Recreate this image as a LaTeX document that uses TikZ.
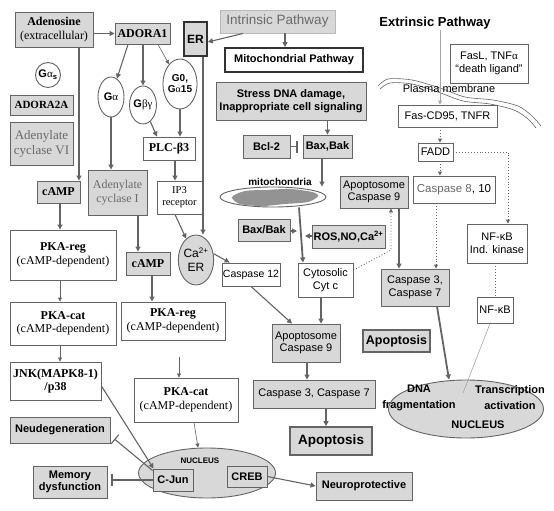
\documentclass[tikz,border=0pt]{standalone}
\usepackage{fontspec}
\setmainfont{Liberation Serif}
\setsansfont{Liberation Sans}
\usepackage{xcolor}
\usepackage{tikz}
\usetikzlibrary{shapes.geometric,arrows.meta,calc}
\definecolor{bloksiva}{RGB}{216,216,216}
\definecolor{linijasiva}{RGB}{100,100,100}
\definecolor{tekstsiva}{RGB}{105,105,105}

\begin{document}
\begin{tikzpicture}[x=1pt,y=-1pt,
    blok/.style={rectangle,draw=linijasiva,line width=0.9pt,fill=white,align=center,inner sep=1pt,
                 font=\fontsize{11}{12.5}\selectfont\sffamily},
    blokb/.style={blok,font=\fontsize{11}{12.5}\selectfont\sffamily\bfseries},
    sblok/.style={blok,font=\fontsize{12}{13.5}\selectfont\rmfamily},
    sblokb/.style={blok,font=\fontsize{12}{13.5}\selectfont\rmfamily\bfseries},
    siva/.style={fill=bloksiva},
    debeo/.style={line width=1.8pt},
    vel/.style 2 args={minimum width=#1pt,minimum height=#2pt},
    ovalg/.style={ellipse,draw=linijasiva,line width=0.9pt,fill=white,inner sep=0pt,align=center,
                  font=\fontsize{11}{12}\selectfont\sffamily\bfseries},
    strelica/.style={-{Triangle[length=5pt,width=5pt]},draw=linijasiva,line width=1.1pt},
    tanka/.style={-{Triangle[length=4pt,width=4pt]},draw=linijasiva,line width=0.6pt},
    tackasta/.style={-{Triangle[length=4pt,width=4pt]},draw=linijasiva,line width=0.9pt,dotted},
    kocnica/.style={-{Bar[width=12pt]},draw=linijasiva,line width=1.1pt}
]
\useasboundingbox (0,0) rectangle (554,511);

\draw[linijasiva,line width=0.6pt] plot[smooth] coordinates {(378,86) (388,79) (412,80) (440,88) (465,97) (493,100) (518,106) (532,116) (541,126)};
\draw[linijasiva,line width=0.6pt] plot[smooth] coordinates {(380,89) (390,83) (412,84) (438,92) (463,101) (490,104) (514,110) (528,119) (536,128)};

\node[sblok,siva,vel={78}{35}] (adenosin) at (54,29.5) {\textbf{Adenosine}\\(extracellular)};
\node[sblokb,siva,vel={55}{21}] (adora1) at (142.5,33.5) {ADORA1};
\node[ovalg,circle,vel={25}{25}] (gas) at (48,75) {G{\rmfamily\mdseries α}\textsubscript{s}};
\node[sblokb,siva,vel={63}{20},font=\fontsize{11}{12}\selectfont\rmfamily\bfseries] (adora2a) at (41.5,105) {ADORA2A};
\node[sblok,siva,vel={63}{43},text=tekstsiva,font=\fontsize{13}{15}\selectfont\rmfamily] (acvi) at (41.5,143.5) {Adenylate\\cyclase VI};
\node[ovalg,vel={26}{40}] (galfa) at (111,97) {G{\rmfamily\mdseries α}};
\node[ovalg,vel={26}{38}] (gbg) at (143,105) {G{\rmfamily\mdseries βγ}};
\node[ovalg,vel={30}{50},font=\fontsize{10}{11}\selectfont\sffamily\bfseries] (g0) at (180,84) {G0,\\G{\rmfamily\mdseries α}15};
\node[sblokb,vel={52}{23}] (plc) at (169,148.5) {PLC-β3};
\node[blokb,siva,debeo,draw=black!80,vel={23}{34},font=\fontsize{12}{13}\selectfont\sffamily\bfseries] (er) at (195.5,39) {ER};

\node[blok,siva,draw=gray!55,text=tekstsiva,vel={115}{23},font=\fontsize{13.5}{15}\selectfont\sffamily] (intr) at (277.5,21.5) {Intrinsic Pathway};
\node[blokb,debeo,draw=black!80,vel={138}{24}] (mitoput) at (294,60) {Mitochondrial Pathway};
\node[blokb,siva,vel={150}{38}] (stres) at (291,101) {Stress DNA damage,\\Inappropriate cell signaling};
\node[blokb,siva,vel={47}{23}] (bcl2) at (266.5,146.5) {Bcl-2};
\node[blokb,siva,vel={49}{23}] (baxbak) at (327.5,146.5) {Bax,Bak};

\node[inner sep=1pt,font=\fontsize{13}{14}\selectfont\sffamily\bfseries] (ekstr) at (435,23) {Extrinsic Pathway};
\node[blok,vel={78}{39}] (fasl) at (489,63.5) {FasL, TNF{\rmfamily α}\\``death ligand''};
\node[inner sep=0pt,font=\fontsize{11}{12}\selectfont\sffamily] (plazma) at (449,89) {Plasma membrane};
\node[blok,vel={99}{22}] (fas) at (447.5,116) {Fas-CD95, TNFR};
\node[blok,vel={35}{18}] (fadd) at (435.5,152) {FADD};

\node[sblokb,siva,vel={43}{22}] (camp1) at (58.5,192) {cAMP};
\node[sblok,siva,vel={59}{45},text=tekstsiva] (aci) at (117.5,192.5) {Adenylate\\cyclase I};
\node[sblok,vel={45}{33},font=\fontsize{10.5}{12}\selectfont\rmfamily] (ip3) at (179.5,197.5) {IP3\\receptor};
\node[ovalg,fill=bloksiva,vel={32}{50},font=\fontsize{12}{14}\selectfont\sffamily] (caer) at (196,260) {Ca\textsuperscript{2+}\\ER};
\node[sblok,vel={106}{50}] (pkareg1) at (63,255) {\textbf{PKA-reg}\\(cAMP-dependent)};
\node[sblokb,siva,vel={44}{23}] (camp2) at (148,263.5) {cAMP};
\node[blok,vel={58}{23},font=\fontsize{10.5}{12}\selectfont\sffamily] (casp12) at (251,274.5) {Caspase 12};
\node[sblok,vel={106}{43}] (pkacat1) at (63,323.5) {\textbf{PKA-cat}\\(cAMP-dependent)};
\node[sblok,vel={104}{38}] (pkareg2) at (173,321) {\textbf{PKA-reg}\\(cAMP-dependent)};

\node[ellipse,draw=linijasiva,line width=0.9pt,fill=white,vel={106}{20}] (mito) at (273,197) {};
\fill[gray!85] plot[smooth cycle] coordinates {(232,197) (245,191) (265,190) (290,189) (312,192) (318,196) (308,202) (285,204) (262,206) (240,204)};
\node[inner sep=0pt,font=\fontsize{10}{11}\selectfont\sffamily\bfseries] (mitotekst) at (280,182) {mitochondria};
\node[blokb,siva,vel={52}{22}] (baxbak2) at (264,230) {Bax/Bak};
\node[blokb,siva,vel={73}{23}] (ros) at (348.5,236.5) {ROS,NO,Ca\textsuperscript{2+}};
\node[blok,siva,vel={68}{32}] (apo9a) at (374,192) {Apoptosome\\Caspase 9};
\node[blok,vel={82}{27},font=\fontsize{11.5}{13}\selectfont\sffamily] (casp810) at (454,189.5) {\textcolor{tekstsiva}{Caspase 8}, 10};
\node[blok,vel={60}{39}] (nfkbik) at (497,243.5) {NF-κB\\Ind. kinase};
\node[blok,vel={55}{34}] (cytc) at (325.5,280) {Cytosolic\\Cyt c};
\node[blok,siva,vel={68}{37}] (casp37a) at (415,287.5) {Caspase 3,\\Caspase 7};
\node[blok,vel={36}{26}] (nfkb) at (495,310) {NF-κB};
\node[blok,siva,vel={68}{38}] (apo9b) at (306,343) {Apoptosome\\Caspase 9};
\node[blokb,siva,debeo,vel={67}{22},font=\fontsize{12.5}{14}\selectfont\sffamily\bfseries] (apopt1) at (396.5,341) {Apoptosis};
\node[blok,siva,vel={122}{28}] (casp37b) at (314,394) {Caspase 3, Caspase 7};
\node[blokb,siva,debeo,vel={82}{28},font=\fontsize{13.5}{15}\selectfont\sffamily\bfseries] (apopt2) at (331,441) {Apoptosis};

\node[ellipse,draw=linijasiva,line width=0.9pt,fill=bloksiva,vel={155}{58}] (jezgro2) at (466,409) {};
\node[align=center,inner sep=0pt,font=\fontsize{11}{16}\selectfont\sffamily\bfseries] (dnk) at (419,398) {DNA\\fragmentation};
\node[align=center,inner sep=0pt,font=\fontsize{11}{16}\selectfont\sffamily\bfseries] (transk) at (510,398) {Transcription\\activation};
\node[inner sep=0pt,font=\fontsize{11}{12}\selectfont\sffamily\bfseries] (jezgro2tekst) at (478,425) {NUCLEUS};
\node[blokb,siva,vel={96}{28}] (neuro) at (364,486) {Neuroprotective};

\node[sblokb,vel={91}{38}] (jnk) at (55.5,381) {JNK(MAPK8-1)\\/p38};
\node[sblok,vel={104}{44}] (pkacat2) at (186,400) {\textbf{PKA-cat}\\(cAMP-dependent)};
\node[blokb,siva,vel={100}{26}] (neudeg) at (60,430) {Neudegeneration};
\node[blokb,siva,vel={74}{32}] (memorija) at (70,482) {Memory\\dysfunction};
\node[ellipse,draw=linijasiva,line width=0.9pt,fill=bloksiva,vel={137}{50}] (jezgro1) at (207,473) {};
\node[inner sep=0pt,font=\fontsize{8}{9}\selectfont\sffamily\bfseries] (jezgro1tekst) at (200,461) {NUCLEUS};
\node[blokb,siva,vel={40}{22}] (cjun) at (173,480) {C-Jun};
\node[blokb,siva,vel={40}{21}] (creb) at (247,476.5) {CREB};

\coordinate (spojbax) at (297,231);
\coordinate (spojros) at (305,236);
\coordinate (tackaugao) at (391,250);
\coordinate (praznina) at (179,357);
\coordinate (nfkbkraj) at (463,393);

\draw[strelica] (adenosin.east |- adora1.west) -- (adora1.west);
\draw[strelica] (adenosin.south -| 79,0) -- (camp1.north -| 79,0);
\draw[strelica] (adora1.south -| 128,0) -- (galfa);
\draw[strelica] (adora1.south -| 143,0) -- (gbg);
\draw[tanka] (adora1.south -| 158,0) -- (g0);
\draw[strelica] (galfa) -- (galfa |- aci.north);
\draw[strelica] (gbg) -- (plc.north -| 157,0);
\draw[strelica] (g0) -- (g0 |- plc.north);
\draw[strelica] (plc.south -| 175,0) -- (ip3.north -| 175,0);
\draw[strelica] (ip3.south -| 175,0) -- (caer);
\draw[strelica] (er.south -| 203,0) -- (caer.north -| 203,0);
\draw[strelica] (intr.south -| 243,0) -- ([yshift=-3pt]er.east);
\draw[strelica] (intr.south -| 285,0) -- (mitoput.north -| 285,0);
\draw[strelica] (stres.south -| baxbak) -- (baxbak.north);
\draw[kocnica] (bcl2.east) -- ([xshift=-5pt]baxbak.west);
\draw[strelica,debeo] (baxbak.south -| 322,0) -- (mito.north -| 322,0);
\draw[strelica,debeo] (mito.south -| 299,0) -- (cytc.north -| 303,0);
\draw[strelica] (baxbak2.east |- spojbax) -- (spojbax);
\draw[strelica] (ros.west |- spojros) -- (spojros);
\draw[tackasta] ([yshift=10pt]cytc.east) -- (tackaugao) -- (apo9a.south -| tackaugao);
\draw[strelica] (apo9a.south -| 399,0) -- (casp37a.north -| 399,0);
\draw[strelica] (caer.20) -- ([xshift=8pt]casp12.north west);
\draw[strelica] (casp12.south) -- (apo9b.north -| 292,0);
\draw[strelica] (cytc.south -| 321,0) -- (apo9b.north -| 321,0);
\draw[strelica] (apo9b.south -| 307,0) -- (casp37b.north -| 307,0);
\draw[strelica] (casp37b.south -| 326,0) -- (apopt2.north -| 326,0);
\draw[tanka,draw=gray!70] (ekstr.south -| 440,0) -- (fas.north -| 440,0);
\draw[tackasta] (fas.south -| 440,0) -- (fadd.north -| 440,0);
\draw[tackasta] (fadd.south -| 440,0) -- (casp810.north -| 440,0);
\draw[tackasta] (fadd.east) -| (nfkbik.north -| 508,0);
\draw[tackasta] (casp810.south -| 436,0) -- (casp37a.north -| 436,0);
\draw[draw=linijasiva,line width=0.9pt,dotted] (nfkbik.south -| 495,0) -- (nfkb.north -| 495,0);
\draw[draw=gray!70,line width=0.6pt] (nfkb.south -| 490,0) -- (nfkbkraj);
\draw[strelica,debeo] (casp37a.south -| 437,0) -- (jezgro2.north -| 449,0);

\draw[strelica] (camp1.south -| 60,0) -- (pkareg1.north -| 60,0);
\draw[tanka] (pkareg1.south -| 60,0) -- (pkacat1.north -| 60,0);
\draw[tanka] (pkacat1.south -| 60,0) -- (jnk.north -| 60,0);
\draw[strelica] (aci.south -| 138,0) -- (camp2.north -| 138,0);
\draw[strelica] (camp2.south -| 152,0) -- (pkareg2.north -| 152,0);
\draw[tanka] (praznina) -- (pkacat2.north -| praznina);
\draw[tanka] (pkacat2.south -| 194,0) -- (jezgro1.north -| 198,0);
\draw[strelica] ([yshift=-5pt]jnk.east) -- ([xshift=1pt]cjun.north west);
\draw[kocnica] ([yshift=-2pt]cjun.north west) -- ([xshift=4pt,yshift=-9pt]neudeg.east);
\draw[kocnica] (cjun.west) -- ([xshift=4pt]memorija.east |- cjun.west);
\draw[strelica] (creb.east) -- (neuro.west);
\end{tikzpicture}
\end{document}
